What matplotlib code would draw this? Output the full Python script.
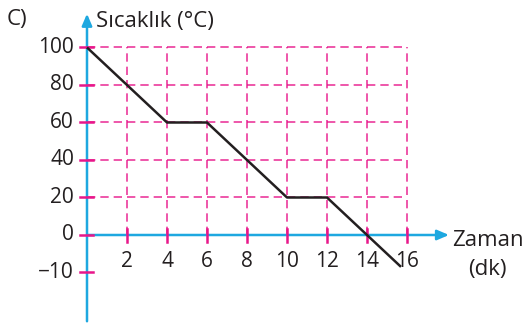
import matplotlib
matplotlib.use("Agg")
import matplotlib.pyplot as plt

# Cooling curve: time (min) vs temperature
time_min = [0, 4, 6, 10, 12, 15.7]
temp_c = [100, 60, 60, 20, 20, -17]

x_ticks = [2, 4, 6, 8, 10, 12, 14, 16]
y_ticks = [0, 20, 40, 60, 80, 100]
y_tick_labels = ["0", "20", "40", "60", "80", "100"]
neg_tick_pos = -20
neg_tick_label = "\u221210"

BLUE = "#1ea8e0"
PINK = "#e8168a"
INK = "#231f20"
NUM_FS = 15
TXT_FS = 16

plt.rcParams["font.family"] = ["Open Sans", "DejaVu Sans"]

fig = plt.figure(figsize=(5.23, 3.25), dpi=100)
ax = fig.add_axes([0, 0, 1, 1])
ax.set_xlim(-4.35, 21.8)
ax.set_ylim(-48, 125.33)
ax.axis("off")

# dashed grid
for x in x_ticks:
    ax.plot([x, x], [0, 100], color=PINK, lw=1.2, ls=(0, (5, 3)), alpha=0.85, zorder=1)
for y in y_ticks[1:]:
    ax.plot([0, 16], [y, y], color=PINK, lw=1.2, ls=(0, (5, 3)), alpha=0.85, zorder=1)

# axes with arrows
ax.annotate("", xy=(18.1, 0), xytext=(0, 0),
            arrowprops=dict(arrowstyle="-|>,head_length=0.7,head_width=0.3",
                            color=BLUE, lw=1.8, shrinkA=0, shrinkB=0), zorder=3)
ax.annotate("", xy=(0, 118), xytext=(0, -46),
            arrowprops=dict(arrowstyle="-|>,head_length=0.7,head_width=0.3",
                            color=BLUE, lw=1.8, shrinkA=0, shrinkB=0), zorder=3)

# tick marks
for x in x_ticks:
    ax.plot([x, x], [3.2, -3.7], color=PINK, lw=1.8, zorder=4)
for y in y_ticks + [neg_tick_pos]:
    ax.plot([-0.35, 0.3], [y, y], color=PINK, lw=1.8, zorder=4)

# tick labels
for x in x_ticks:
    ax.text(x, -14, str(x), ha="center", va="center", fontsize=NUM_FS, color=INK)
for y, lab in zip(y_ticks, y_tick_labels):
    ax.text(-0.65, y, lab, ha="right", va="center", fontsize=NUM_FS, color=INK)
ax.text(-0.65, neg_tick_pos, neg_tick_label, ha="right", va="center", fontsize=NUM_FS, color=INK)

# temperature curve
ax.plot(time_min, temp_c, color=INK, lw=1.8, zorder=5, solid_capstyle="butt")

# titles
ax.text(-4.0, 115, "C)", ha="left", va="center", fontsize=TXT_FS, color=INK)
ax.text(0.45, 114, "Sıcaklık (°C)", ha="left", va="center", fontsize=TXT_FS, color=INK)
ax.text(18.25, -3.2, "Zaman", ha="left", va="center", fontsize=TXT_FS, color=INK)
ax.text(20.0, -18.5, "(dk)", ha="center", va="center", fontsize=TXT_FS, color=INK)

fig.savefig("out.png", dpi=100)
